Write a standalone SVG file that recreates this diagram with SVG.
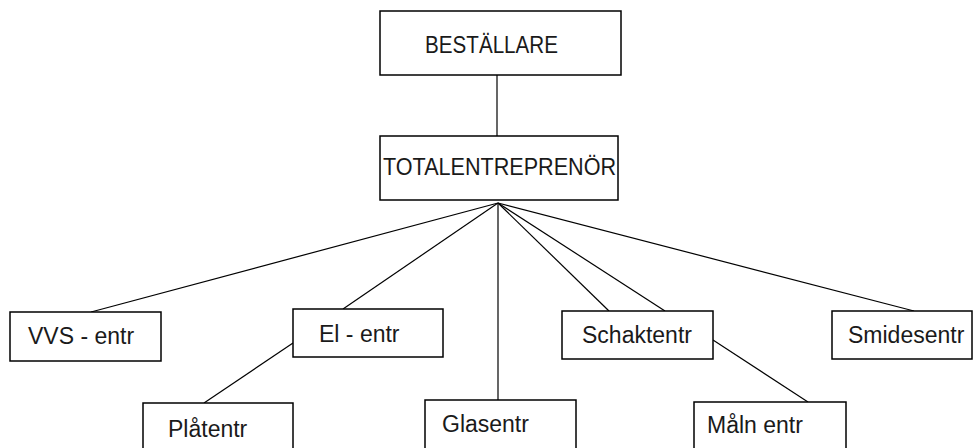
<svg xmlns="http://www.w3.org/2000/svg" width="973" height="448" viewBox="0 0 973 448">
<style>
.box{fill:#fff;stroke:#000;stroke-width:1.5}
.t{font-family:"Liberation Sans",Arial,sans-serif;font-size:23px;fill:#1a1a1a}
.c{stroke:#000;stroke-width:1.2;fill:none}
</style>
<rect width="973" height="448" fill="#fff"/>
<g id="connectors">
<line class="c" x1="497" y1="75" x2="497" y2="136"/>
<line class="c" x1="498" y1="203" x2="91" y2="312"/>
<line class="c" x1="498" y1="203" x2="343" y2="309"/>
<line class="c" x1="498" y1="203" x2="498" y2="400"/>
<line class="c" x1="498" y1="203" x2="609" y2="311"/>
<line class="c" x1="498" y1="203" x2="665" y2="311"/>
<line class="c" x1="498" y1="203" x2="914" y2="311"/>
<line class="c" x1="293" y1="343" x2="204" y2="403"/>
<line class="c" x1="713" y1="340" x2="808" y2="402"/>
</g>
<g id="bestallare"><rect class="box" x="380" y="11" width="241" height="64"/><text class="t" x="425" y="53" textLength="133" lengthAdjust="spacingAndGlyphs">BESTÄLLARE</text></g>
<g id="totalentreprenor"><rect class="box" x="380" y="136" width="238" height="64"/><text class="t" x="383" y="175" textLength="233" lengthAdjust="spacingAndGlyphs">TOTALENTREPRENÖR</text></g>
<g id="vvs"><rect class="box" x="10" y="312" width="151" height="49"/><text class="t" x="28" y="344">VVS - entr</text></g>
<g id="el"><rect class="box" x="293" y="309" width="150" height="48"/><text class="t" x="319" y="342">El - entr</text></g>
<g id="schakt"><rect class="box" x="562" y="311" width="151" height="48"/><text class="t" x="582" y="343">Schaktentr</text></g>
<g id="smides"><rect class="box" x="832" y="311" width="140" height="48"/><text class="t" x="848" y="343">Smidesentr</text></g>
<g id="plat"><rect class="box" x="143" y="403" width="150" height="50"/><text class="t" x="168" y="437">Plåtentr</text></g>
<g id="glas"><rect class="box" x="425" y="400" width="151" height="53"/><text class="t" x="442" y="432">Glasentr</text></g>
<g id="maln"><rect class="box" x="694" y="402" width="152" height="51"/><text class="t" x="707" y="433">Måln entr</text></g>
</svg>
